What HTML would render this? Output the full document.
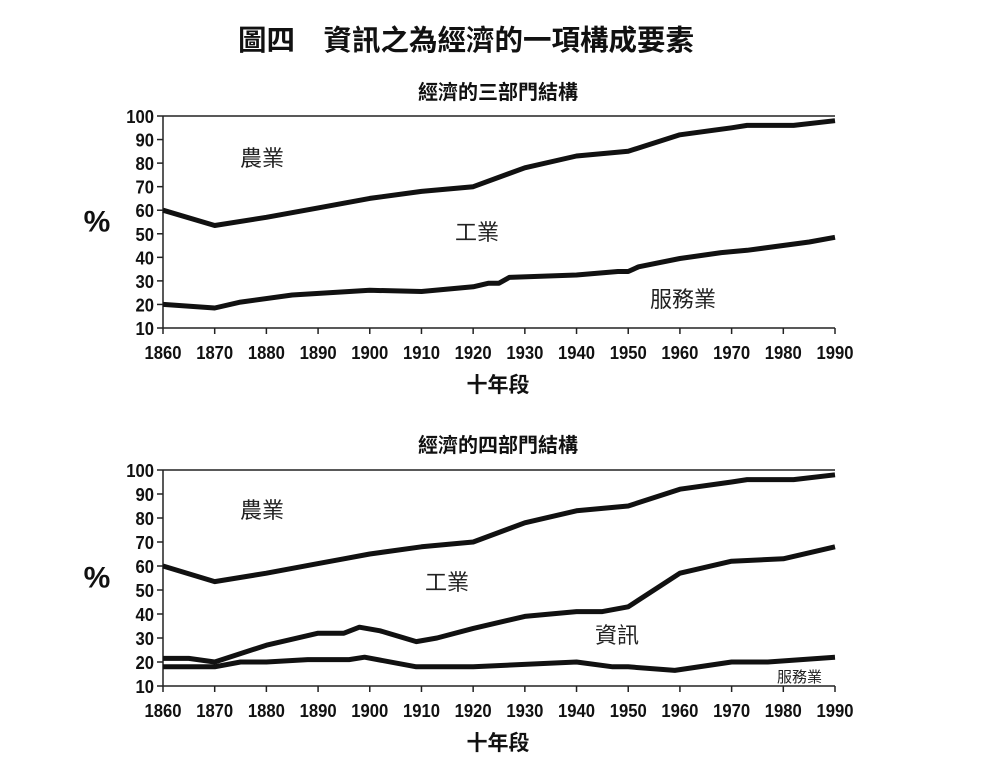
<!DOCTYPE html>
<html><head><meta charset="utf-8"><style>
body{margin:0;background:#fff;width:995px;height:759px;overflow:hidden;font-family:"Liberation Sans","Noto Sans CJK TC",sans-serif}
svg{display:block}
text{font-family:"Liberation Sans","Noto Sans CJK TC",sans-serif}
</style></head><body>
<svg id="c" width="995" height="759">
<text x="466" y="50" text-anchor="middle" font-size="28.5" font-weight="bold" fill="#111">圖四　資訊之為經濟的一項構成要素</text>
</svg>
<script>
const years=[1860,1870,1880,1890,1900,1910,1920,1930,1940,1950,1960,1970,1980,1990];
const yTicks=[10,20,30,40,50,60,70,80,90,100];
// chart 1
const c1AgriX=[1860,1870,1880,1890,1895,1900,1910,1920,1930,1940,1950,1960,1970,1973,1982,1990];
const c1AgriY=[60,53.5,57,61,63,65,68,70,78,83,85,92,95,96,96,98];
const c1ServX=[1860,1870,1875,1885,1900,1910,1920,1923,1925,1927,1940,1948,1950,1952,1960,1968,1973,1985,1990];
const c1ServY=[20,18.5,21,24,26,25.5,27.5,29,29,31.5,32.5,34,34,36,39.5,42,43,46.5,48.5];
// chart 2
const c2AgriX=c1AgriX;
const c2AgriY=[60,53.5,57,61,63,65,68,70,78,83,85,92,95,96,96,98];
const c2InfoX=[1860,1865,1870,1880,1890,1895,1898,1902,1909,1913,1920,1930,1940,1945,1950,1960,1970,1980,1990];
const c2InfoY=[21.5,21.5,20,27,32,32,34.5,33,28.5,30,34,39,41,41,43,57,62,63,68];
const c2ServX=[1860,1870,1875,1880,1888,1896,1899,1909,1920,1940,1947,1950,1959,1970,1977,1990];
const c2ServY=[18,18,20,20,21,21,22,18,18,20,18,18,16.5,20,20,22];

const svg=document.getElementById('c');
const NS='http://www.w3.org/2000/svg';
function mk(tag,attrs,txt){const e=document.createElementNS(NS,tag);for(const k in attrs)e.setAttribute(k,attrs[k]);if(txt!==undefined)e.textContent=txt;svg.appendChild(e);return e;}

function chart(prefix,title,titleY,top,bot,series,labels){
  const X0=163,X1=835;
  const sx=v=>X0+(v-1860)/(1990-1860)*(X1-X0);
  const sy=v=>bot-(v-10)/90*(bot-top);
  let t=mk('text',{x:498,y:titleY,'text-anchor':'middle','font-size':20,'font-weight':'bold',fill:'#111'},title);
  
  
  let a=mk('path',{d:`M${X0},${top} H${X1} M${X0},${top} V${bot} H${X1}`,stroke:'#222','stroke-width':1.5,fill:'none'});
  
  
  yTicks.forEach(v=>{
    const l=mk('line',{x1:X0-6,x2:X0,y1:sy(v),y2:sy(v),stroke:'#222','stroke-width':1.5});
    
    
    const tx=mk('text',{x:(X0-9)/0.9,y:sy(v)+7,'text-anchor':'end','font-size':18.5,'font-weight':'bold',fill:'#111',transform:'scale(0.9,1)'},v);
    
    
  });
  years.forEach(v=>{
    const l=mk('line',{x1:sx(v),x2:sx(v),y1:bot,y2:bot+6,stroke:'#222','stroke-width':1.5});
    
    
    const tx=mk('text',{x:sx(v)/0.9,y:bot+31,'text-anchor':'middle','font-size':18.5,'font-weight':'bold',fill:'#111',transform:'scale(0.9,1)'},v);
    
    
  });
  let yt=mk('text',{x:97,y:sy(51),'text-anchor':'middle','font-size':30,'font-weight':'bold',fill:'#111'},'%');
  
  
  let xt=mk('text',{x:498,y:bot+64,'text-anchor':'middle','font-size':21,'font-weight':'bold',fill:'#111'},'十年段');
  
  
  series.forEach(s=>{
    const d=s.x.map((v,i)=>(i?'L':'M')+sx(v).toFixed(1)+','+sy(s.y[i]).toFixed(1)).join(' ');
    const p=mk('path',{d,stroke:'#111','stroke-width':5,fill:'none','stroke-linejoin':'round'});
    
    
  });
  labels.forEach(L=>{
    const tx=mk('text',{x:L[0],y:L[1],'font-size':L[3],fill:'#222'},L[2]);
    
    
  });
}
chart('chart1','經濟的三部門結構',99,116,328,
  [{name:'agri-industry-line',x:c1AgriX,y:c1AgriY},{name:'industry-service-line',x:c1ServX,y:c1ServY}],
  [[240,166,'農業',22,'agriculture'],[455,240,'工業',22,'industry'],[650,307,'服務業',22,'services']]);
chart('chart2','經濟的四部門結構',452,470,686,
  [{name:'agri-industry-line',x:c2AgriX,y:c2AgriY},{name:'industry-info-line',x:c2InfoX,y:c2InfoY},{name:'info-service-line',x:c2ServX,y:c2ServY}],
  [[240,518,'農業',22,'agriculture'],[425,590,'工業',22,'industry'],[595,643,'資訊',22,'information'],[777,682,'服務業',15,'services']]);
</script>
</body></html>
